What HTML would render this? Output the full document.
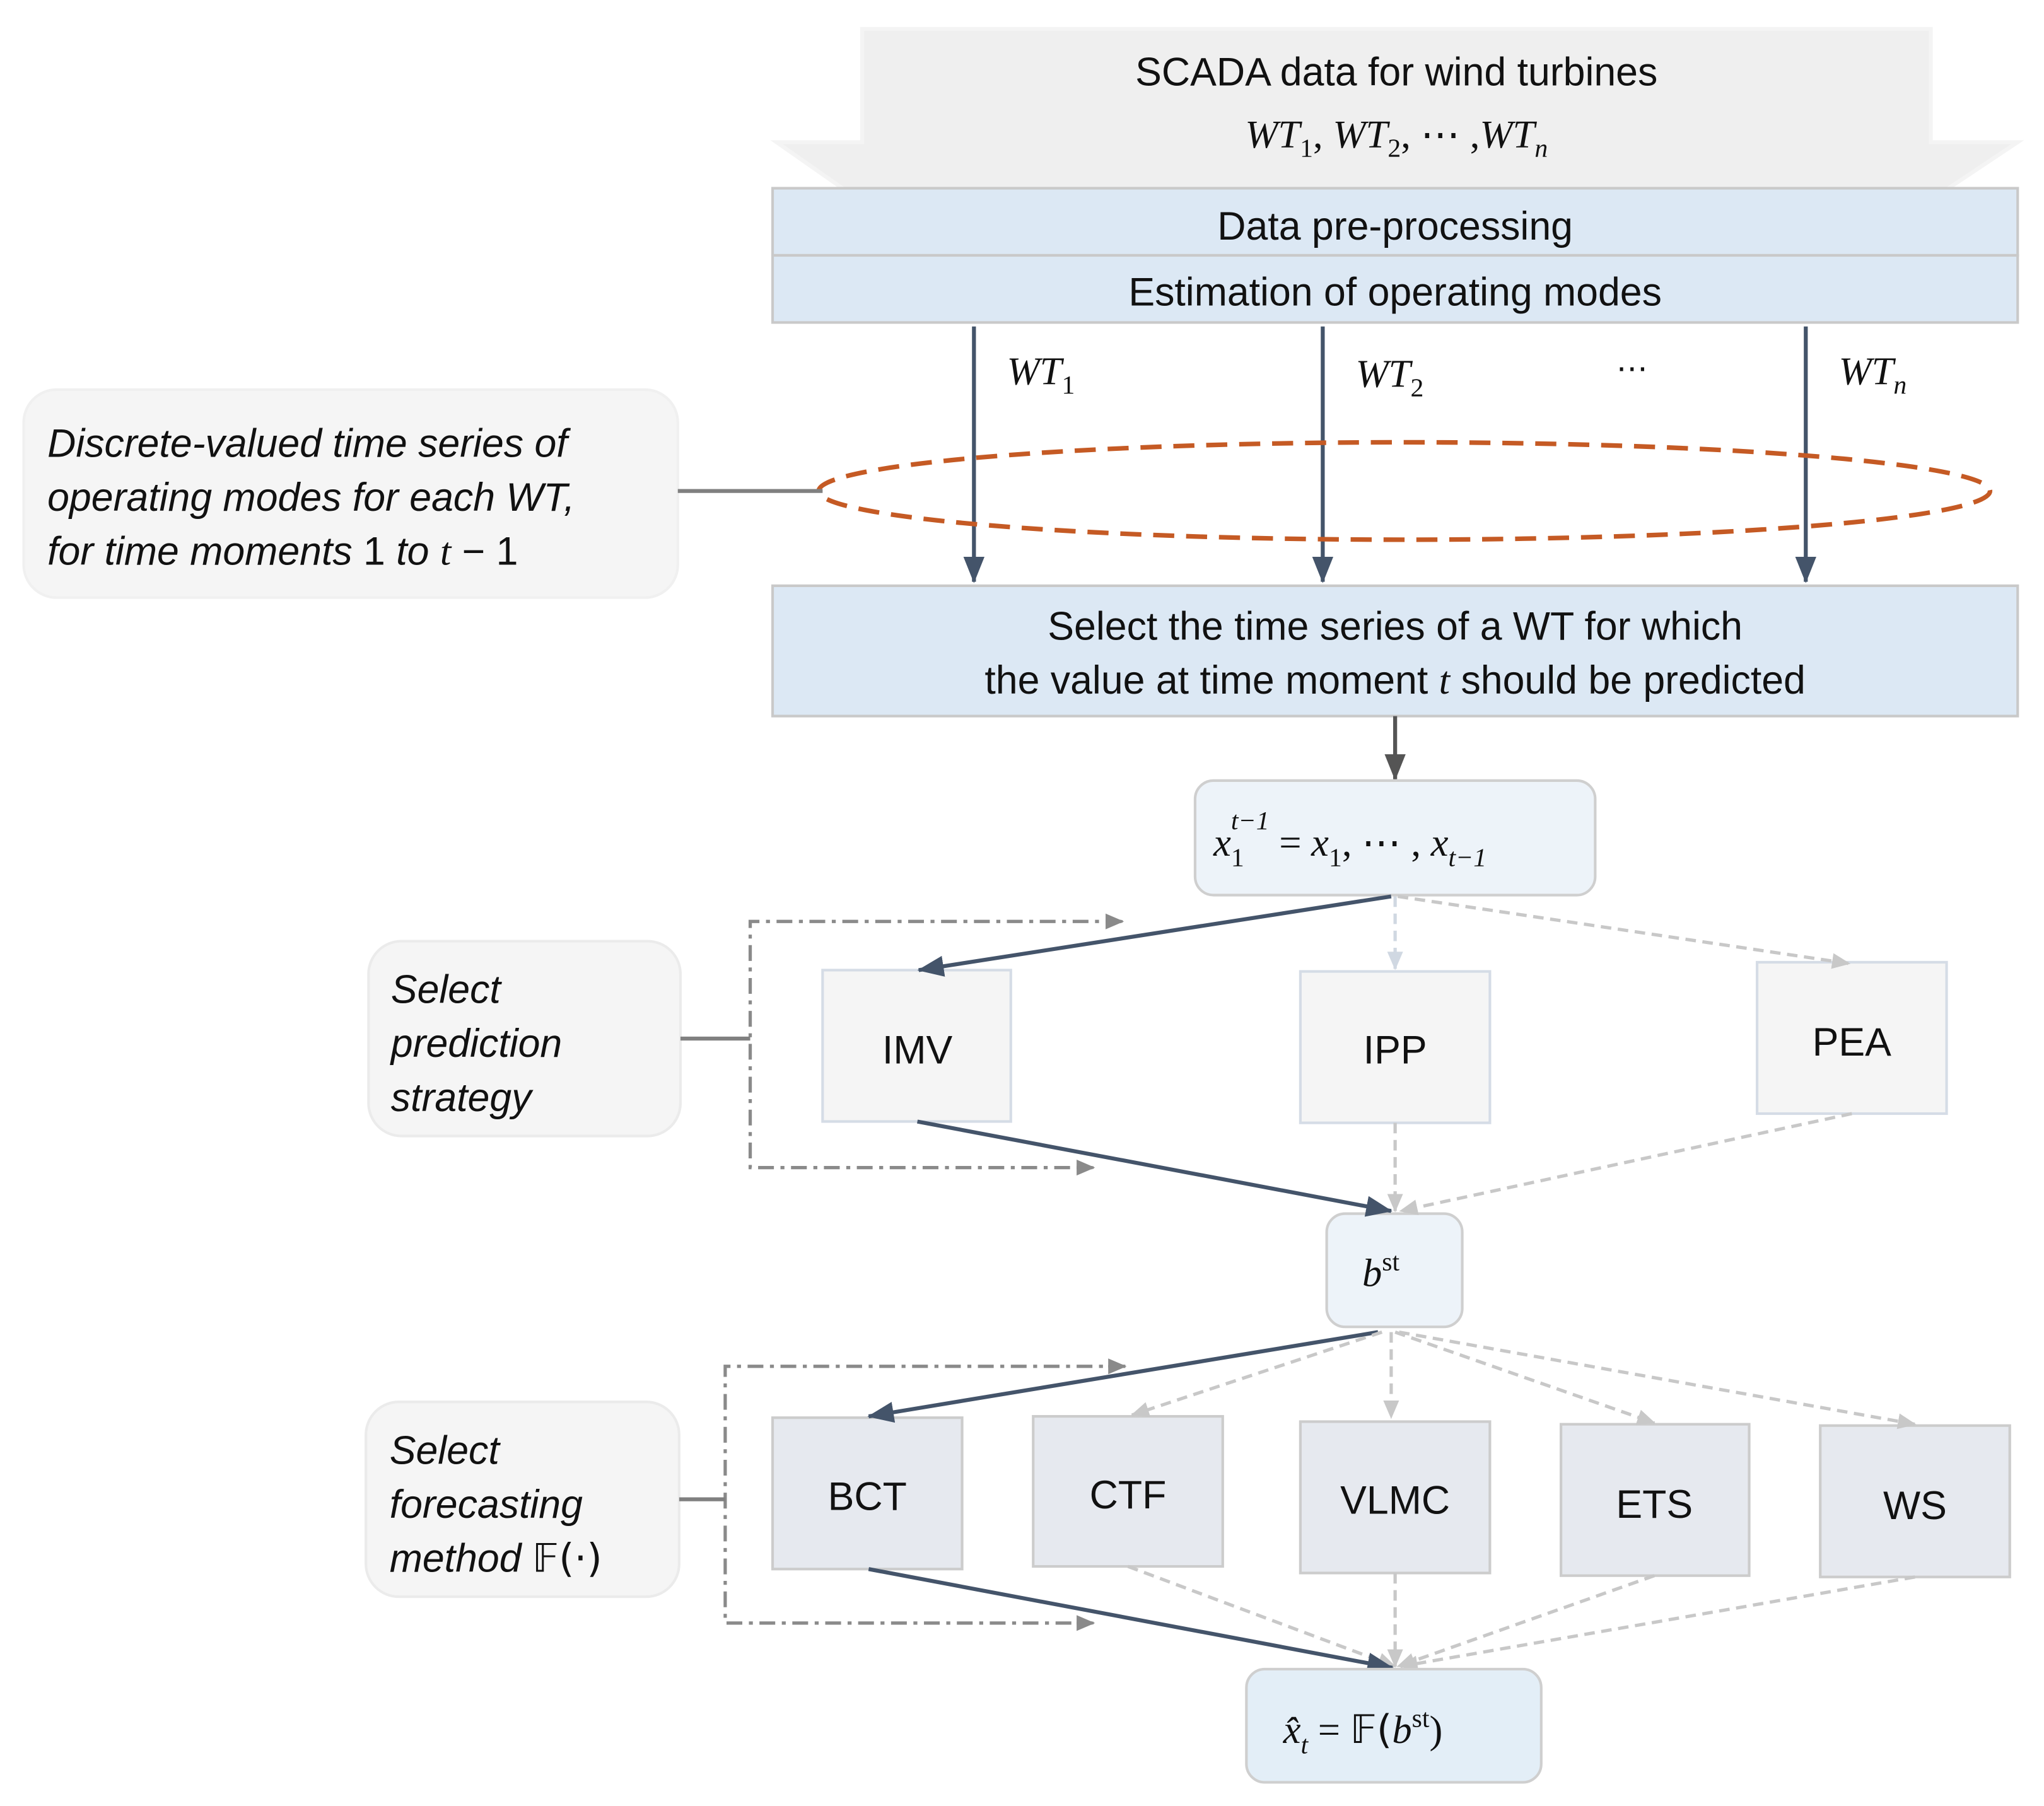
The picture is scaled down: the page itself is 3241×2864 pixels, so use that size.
<!DOCTYPE html>
<html><head><meta charset="utf-8"><style>html,body{margin:0;padding:0;background:#fff}svg{display:block}
text{font-family:"Liberation Sans",sans-serif;fill:#111}
.m{font-family:"Liberation Serif",serif;font-style:italic}
.i{font-style:italic}
</style></head><body>
<svg width="3241" height="2864" viewBox="0 0 1553 1372" preserveAspectRatio="none" xmlns="http://www.w3.org/2000/svg">
<defs>
<marker id="ag" markerWidth="14" markerHeight="14" refX="13" refY="7" orient="auto" markerUnits="userSpaceOnUse" viewBox="0 0 14 14"><path d="M0,1 L14,7 L0,13 z" fill="#8a8a8a"/></marker>
<marker id="al" markerWidth="14" markerHeight="14" refX="13" refY="7" orient="auto" markerUnits="userSpaceOnUse" viewBox="0 0 14 14"><path d="M0,1 L14,7 L0,13 z" fill="#c8c8c8"/></marker>
<marker id="ab" markerWidth="14" markerHeight="14" refX="13" refY="7" orient="auto" markerUnits="userSpaceOnUse" viewBox="0 0 14 14"><path d="M0,1 L14,7 L0,13 z" fill="#d0d8e2"/></marker>
<marker id="adk" markerWidth="20" markerHeight="18" refX="19" refY="9" orient="auto" markerUnits="userSpaceOnUse" viewBox="0 0 20 18"><path d="M0,1 L20,9 L0,17 z" fill="#44546a"/></marker>
<marker id="agk" markerWidth="20" markerHeight="18" refX="19" refY="9" orient="auto" markerUnits="userSpaceOnUse" viewBox="0 0 20 18"><path d="M0,1 L20,9 L0,17 z" fill="#555"/></marker>
</defs>
<path d="M655,22 H1467 V108 H1533 L1470,150 H650 L590,108 H655 Z" fill="#efefef" stroke="#f4f4f4" stroke-width="3"/>
<text x="1061" y="65" font-size="30" text-anchor="middle">SCADA data for wind turbines</text>
<text x="1061" y="112" font-size="30" text-anchor="middle" class="m">WT<tspan font-size="20" dy="7" font-style="normal">1</tspan><tspan dy="-7" font-style="normal">, </tspan>WT<tspan font-size="20" dy="7" font-style="normal">2</tspan><tspan dy="-7" font-style="normal">, ⋯ ,</tspan>WT<tspan font-size="20" dy="7">n</tspan></text>
<rect x="587" y="143" width="946" height="51" fill="#dce8f4" stroke="#c9c9c9" stroke-width="2"/>
<rect x="587" y="194" width="946" height="51" fill="#dce8f4" stroke="#c9c9c9" stroke-width="2"/>
<text x="1060" y="182" font-size="30" text-anchor="middle">Data pre-processing</text>
<text x="1060" y="232" font-size="30" text-anchor="middle">Estimation of operating modes</text>
<g stroke="#44546a" stroke-width="3">
<line x1="740" y1="248" x2="740" y2="442" marker-end="url(#adk)"/>
<line x1="1005" y1="248" x2="1005" y2="442" marker-end="url(#adk)"/>
<line x1="1372" y1="248" x2="1372" y2="442" marker-end="url(#adk)"/>
</g>
<text x="765" y="292" font-size="30" class="m">WT<tspan font-size="20" dy="7" font-style="normal">1</tspan></text>
<text x="1030" y="294" font-size="30" class="m">WT<tspan font-size="20" dy="7" font-style="normal">2</tspan></text>
<text x="1240" y="288" font-size="24" text-anchor="middle">⋯</text>
<text x="1397" y="292" font-size="30" class="m">WT<tspan font-size="20" dy="7">n</tspan></text>
<ellipse cx="1067" cy="373" rx="445" ry="37" fill="none" stroke="#c55a24" stroke-width="3.5" stroke-dasharray="16,9"/>
<rect x="18" y="296" width="497" height="158" rx="25" fill="#f5f5f5" stroke="#f0f0f0" stroke-width="2"/>
<line x1="515" y1="373" x2="625" y2="373" stroke="#808080" stroke-width="3"/>
<text font-size="30" class="i"><tspan x="36" y="347">Discrete-valued time series of</tspan><tspan x="36" y="388">operating modes for each WT,</tspan><tspan x="36" y="429">for time moments </tspan><tspan font-style="normal">1</tspan><tspan> to </tspan><tspan class="m">t</tspan><tspan font-style="normal"> − 1</tspan></text>
<rect x="587" y="445" width="946" height="99" fill="#dce8f4" stroke="#c9c9c9" stroke-width="2"/>
<text x="1060" y="486" font-size="30" text-anchor="middle">Select the time series of a WT for which</text>
<text x="1060" y="527" font-size="30" text-anchor="middle">the value at time moment <tspan class="m">t</tspan> should be predicted</text>
<line x1="1060" y1="544" x2="1060" y2="592" stroke="#555" stroke-width="3" marker-end="url(#agk)"/>
<rect x="908" y="593" width="304" height="87" rx="14" fill="#edf3f9" stroke="#cfcfcf" stroke-width="2"/>
<text x="922" y="650" font-size="30" class="m">x<tspan font-size="20" dy="8" font-style="normal">1</tspan><tspan font-size="20" dx="-10" dy="-28">t−1</tspan><tspan dy="20" font-style="normal"> = </tspan>x<tspan font-size="20" dy="8" font-style="normal">1</tspan><tspan dy="-8" font-style="normal">, ⋯ , </tspan>x<tspan font-size="20" dy="8">t−1</tspan></text>
<rect x="625" y="737" width="143" height="115" fill="#f5f5f5" stroke="#d5dce6" stroke-width="2"/>
<rect x="988" y="738" width="144" height="115" fill="#f5f5f5" stroke="#d5dce6" stroke-width="2"/>
<rect x="1335" y="731" width="144" height="115" fill="#f5f5f5" stroke="#d5dce6" stroke-width="2"/>
<text x="697" y="808" font-size="30" text-anchor="middle">IMV</text>
<text x="1060" y="808" font-size="30" text-anchor="middle">IPP</text>
<text x="1407" y="802" font-size="30" text-anchor="middle">PEA</text>
<line x1="1057" y1="681" x2="698" y2="737" stroke="#44546a" stroke-width="3" marker-end="url(#adk)"/>
<line x1="1060" y1="681" x2="1060" y2="736" stroke="#d0d8e2" stroke-width="2.5" stroke-dasharray="8,5" marker-end="url(#ab)"/>
<line x1="1062" y1="681" x2="1405" y2="732" stroke="#c8c8c8" stroke-width="2.5" stroke-dasharray="8,5" marker-end="url(#al)"/>
<path d="M852,700 H570 V887 H830" fill="none" stroke="#8a8a8a" stroke-width="2.5" stroke-dasharray="12,5,3,5"/>
<line x1="840" y1="700" x2="853" y2="700" stroke="#8a8a8a" stroke-width="2" marker-end="url(#ag)"/>
<line x1="818" y1="887" x2="831" y2="887" stroke="#8a8a8a" stroke-width="2" marker-end="url(#ag)"/>
<rect x="280" y="715" width="237" height="148" rx="25" fill="#f5f5f5" stroke="#ebebeb" stroke-width="2"/>
<line x1="517" y1="789" x2="570" y2="789" stroke="#808080" stroke-width="3"/>
<text font-size="30" class="i"><tspan x="297" y="762">Select</tspan><tspan x="297" y="803">prediction</tspan><tspan x="297" y="844">strategy</tspan></text>
<rect x="1008" y="922" width="103" height="86" rx="14" fill="#edf3f9" stroke="#cfcfcf" stroke-width="2"/>
<text x="1035" y="977" font-size="30" class="m">b<tspan font-size="20" dy="-12" font-style="normal">st</tspan></text>
<line x1="697" y1="852" x2="1057" y2="920" stroke="#44546a" stroke-width="3" marker-end="url(#adk)"/>
<line x1="1060" y1="853" x2="1060" y2="920" stroke="#c8c8c8" stroke-width="2.5" stroke-dasharray="8,5" marker-end="url(#al)"/>
<line x1="1407" y1="846" x2="1064" y2="920" stroke="#c8c8c8" stroke-width="2.5" stroke-dasharray="8,5" marker-end="url(#al)"/>
<g fill="#e6e9ef" stroke="#cccccc" stroke-width="2">
<rect x="587" y="1077" width="144" height="115"/>
<rect x="785" y="1076" width="144" height="114"/>
<rect x="988" y="1080" width="144" height="115"/>
<rect x="1186" y="1082" width="143" height="115"/>
<rect x="1383" y="1083" width="144" height="115"/>
</g>
<text x="659" y="1147" font-size="30" text-anchor="middle">BCT</text>
<text x="857" y="1146" font-size="30" text-anchor="middle">CTF</text>
<text x="1060" y="1150" font-size="30" text-anchor="middle">VLMC</text>
<text x="1257" y="1153" font-size="30" text-anchor="middle">ETS</text>
<text x="1455" y="1154" font-size="30" text-anchor="middle">WS</text>
<line x1="1047" y1="1012" x2="660" y2="1076" stroke="#44546a" stroke-width="3" marker-end="url(#adk)"/>
<g stroke="#c8c8c8" stroke-width="2.5" stroke-dasharray="8,5" fill="none">
<line x1="1050" y1="1012" x2="860" y2="1075" marker-end="url(#al)"/>
<line x1="1057" y1="1012" x2="1057" y2="1077" marker-end="url(#al)"/>
<line x1="1060" y1="1012" x2="1257" y2="1081" marker-end="url(#al)"/>
<line x1="1063" y1="1012" x2="1455" y2="1082" marker-end="url(#al)"/>
<line x1="857" y1="1190" x2="1060" y2="1266" marker-end="url(#al)"/>
<line x1="1060" y1="1195" x2="1060" y2="1266" marker-end="url(#al)"/>
<line x1="1257" y1="1197" x2="1062" y2="1266" marker-end="url(#al)"/>
<line x1="1455" y1="1198" x2="1064" y2="1266" marker-end="url(#al)"/>
</g>
<line x1="660" y1="1192" x2="1058" y2="1267" stroke="#44546a" stroke-width="3" marker-end="url(#adk)"/>
<path d="M855,1038 H551 V1233 H830" fill="none" stroke="#8a8a8a" stroke-width="2.5" stroke-dasharray="12,5,3,5"/>
<line x1="842" y1="1038" x2="855" y2="1038" stroke="#8a8a8a" stroke-width="2" marker-end="url(#ag)"/>
<line x1="818" y1="1233" x2="831" y2="1233" stroke="#8a8a8a" stroke-width="2" marker-end="url(#ag)"/>
<rect x="278" y="1065" width="238" height="148" rx="25" fill="#f5f5f5" stroke="#ebebeb" stroke-width="2"/>
<line x1="516" y1="1139" x2="551" y2="1139" stroke="#808080" stroke-width="3"/>
<text font-size="30" class="i"><tspan x="296" y="1112">Select</tspan><tspan x="296" y="1153">forecasting</tspan><tspan x="296" y="1194">method </tspan><tspan font-style="normal" font-family="DejaVu Sans">𝔽(·)</tspan></text>
<rect x="947" y="1268" width="224" height="86" rx="14" fill="#e3eef7" stroke="#cfcfcf" stroke-width="2"/>
<text x="975" y="1324" font-size="30" class="m">x̂<tspan font-size="20" dy="8">t</tspan><tspan dy="-8" font-style="normal"> = </tspan><tspan font-style="normal" font-family="DejaVu Sans">𝔽(</tspan>b<tspan font-size="20" dy="-12" font-style="normal">st</tspan><tspan dy="12" font-style="normal">)</tspan></text>
</svg>
</body></html>
